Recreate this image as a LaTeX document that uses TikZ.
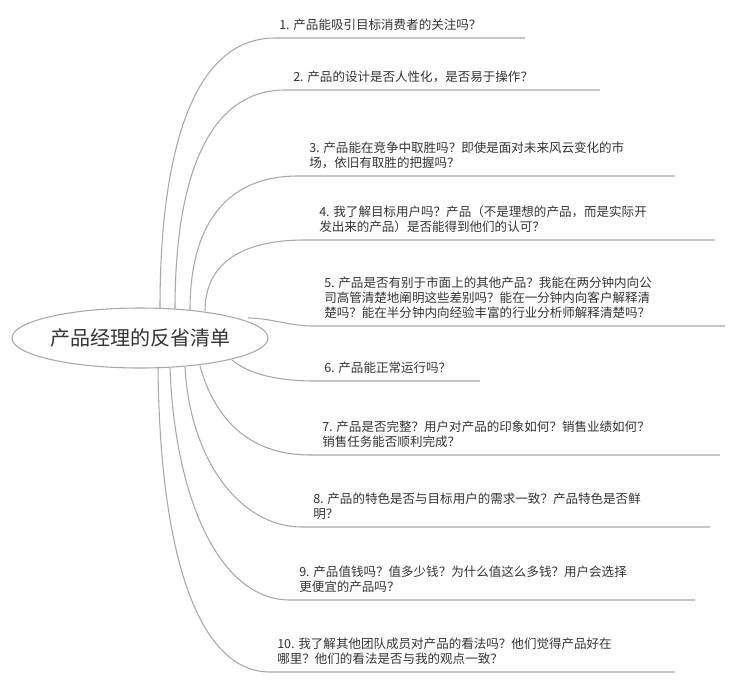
\documentclass[tikz,border=0pt]{standalone}
\usepackage{fontspec}
\setmainfont{Noto Sans CJK SC}
\usetikzlibrary{shapes.geometric}
\definecolor{ln}{HTML}{A8A8A8}
\definecolor{tx}{HTML}{333333}
\begin{document}
\begin{tikzpicture}[x=0.75pt,y=-0.75pt,
  br/.style={draw=ln,line width=0.8pt},
  lab/.style={anchor=south west,inner sep=0pt,align=left,text=tx,font=\fontsize{9.4}{11.5}\selectfont}]
\useasboundingbox (0,0) rectangle (730,685);
\node[ellipse,draw=ln,line width=0.8pt,inner sep=0pt,minimum width=192pt,minimum height=45pt,font=\fontsize{15}{16}\selectfont,text=tx] (root) at (140,338) {产品经理的反省清单};
\foreach \i/\ax/\ay/\cax/\cay/\cbx/\sx/\y/\ex in {
 1/160/308/160/146/195/275/38/525,
 2/175/309/175/178/208/285/90/600,
 3/190/310/190/230/222/298/176/675,
 4/205/311/205/268/235/305/240/715,
 5/248/318/270/318/290/312/326/725,
 6/232/360/250/375/280/315/381/480,
 7/200/366/215/420/250/310/455/720,
 8/185/367/190/460/240/302/527/710,
 9/170/368/175/500/220/290/600/695,
 10/158/368/160/560/200/270/672/675}{
  \coordinate (a\i) at (\ax,\ay);
  \coordinate (s\i) at (\sx,\y);
  \coordinate (e\i) at (\ex,\y);
  \draw[br] (a\i) .. controls (\cax,\cay) and (\cbx,\y) .. (s\i) -- (e\i);
}
\node[lab] (t1) at (279,31) {1. 产品能吸引目标消费者的关注吗？};
\node[lab] (t2) at (293,83) {2. 产品的设计是否人性化，是否易于操作？};
\node[lab] (t3) at (309,169) {3. 产品能在竞争中取胜吗？即使是面对未来风云变化的市\\场，依旧有取胜的把握吗？};
\node[lab] (t4) at (319,233) {4. 我了解目标用户吗？产品（不是理想的产品，而是实际开\\发出来的产品）是否能得到他们的认可？};
\node[lab] (t5) at (324,319) {5. 产品是否有别于市面上的其他产品？我能在两分钟内向公\\司高管清楚地阐明这些差别吗？能在一分钟内向客户解释清\\楚吗？能在半分钟内向经验丰富的行业分析师解释清楚吗？};
\node[lab] (t6) at (324,374) {6. 产品能正常运行吗？};
\node[lab] (t7) at (322,448) {7. 产品是否完整？用户对产品的印象如何？销售业绩如何？\\销售任务能否顺利完成？};
\node[lab] (t8) at (313,520) {8. 产品的特色是否与目标用户的需求一致？产品特色是否鲜\\明？};
\node[lab] (t9) at (299,593) {9. 产品值钱吗？值多少钱？为什么值这么多钱？用户会选择\\更便宜的产品吗？};
\node[lab] (t10) at (277,665) {10. 我了解其他团队成员对产品的看法吗？他们觉得产品好在\\哪里？他们的看法是否与我的观点一致？};
\end{tikzpicture}
\end{document}
